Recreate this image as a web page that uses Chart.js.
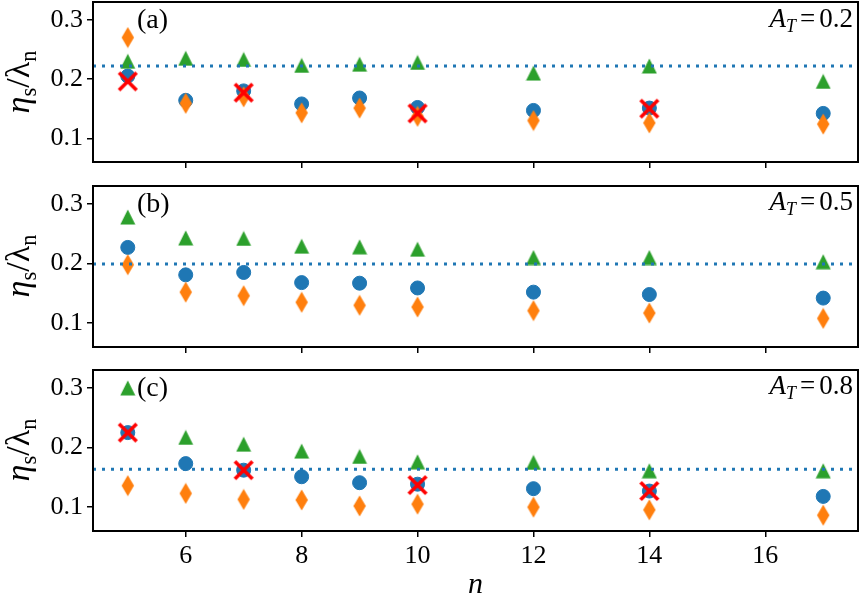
<!DOCTYPE html>
<html><head><meta charset="utf-8">
<script src="https://cdn.jsdelivr.net/npm/chart.js@4.4.1/dist/chart.umd.min.js"></script>
<style>
html,body{margin:0;padding:0;background:#fff;}
#wrap{position:relative;width:863px;height:600px;overflow:hidden;background:#fff;}
#wrap canvas{position:absolute;left:0;}
.lab{position:absolute;font-family:"Liberation Serif",serif;font-size:28px;color:#000;white-space:nowrap;line-height:1;}
.at{position:absolute;font-family:"Liberation Serif",serif;font-size:27px;color:#000;white-space:nowrap;line-height:1;}
.ytitle{position:absolute;left:18px;transform:translate(-50%,-50%) rotate(-90deg);font-family:"Liberation Serif",serif;font-size:34px;color:#000;white-space:nowrap;line-height:1;}
.sub{font-size:66%;position:relative;top:0.3em;}
</style></head><body>
<div id="wrap">
<canvas id="ca" width="863" height="182" style="top:0px"></canvas>
<canvas id="cb" width="863" height="182" style="top:184px"></canvas>
<canvas id="cc" width="863" height="232" style="top:368px"></canvas>
<div class="ytitle" style="top:82px"><i>η</i><span class="sub">s</span>/λ<span class="sub">n</span></div>
<div class="ytitle" style="top:266px"><i>η</i><span class="sub">s</span>/λ<span class="sub">n</span></div>
<div class="ytitle" style="top:450px"><i>η</i><span class="sub">s</span>/λ<span class="sub">n</span></div>
<div class="lab" id="la" style="left:137px;top:4.5px"></div>
<div class="lab" id="lb" style="left:137px;top:188.5px"></div>
<div class="lab" id="lc" style="left:137px;top:372.5px"></div>
<div class="at" id="ra" style="right:10px;top:4.5px"></div>
<div class="at" id="rb" style="right:10px;top:188px"></div>
<div class="at" id="rc" style="right:10px;top:372px"></div>
</div>
<script>
// ---- data ----
const nValues = [5, 6, 7, 8, 9, 10, 12, 14, 17];
const xTicks = [6, 8, 10, 12, 14, 16];
const yTicks = [0.1, 0.2, 0.3];
const panelLabels = ['(a)', '(b)', '(c)'];
const atValues = ['0.2', '0.5', '0.8'];

// panel (a) A_T = 0.2
const blueA   = [0.205, 0.164, 0.180, 0.158, 0.168, 0.152, 0.147, 0.151, 0.142];
const orangeA = [0.270, 0.159, 0.170, 0.143, 0.151, 0.137, 0.130, 0.126, 0.124];
const greenA  = [0.230, 0.235, 0.233, 0.223, 0.225, 0.228, 0.210, 0.222, 0.196];
const crossNA = [5, 7, 10, 14];
const crossYA = [0.196, 0.177, 0.142, 0.150];
const refA = 0.222;

// panel (b) A_T = 0.5
const blueB   = [0.227, 0.181, 0.185, 0.168, 0.167, 0.159, 0.152, 0.148, 0.142];
const orangeB = [0.198, 0.152, 0.146, 0.135, 0.130, 0.127, 0.121, 0.117, 0.108];
const greenB  = [0.278, 0.243, 0.242, 0.229, 0.228, 0.224, 0.210, 0.210, 0.203];
const crossNB = [];
const crossYB = [];
const refB = 0.199;

// panel (c) A_T = 0.8
const blueC   = [0.225, 0.173, 0.162, 0.151, 0.141, 0.1385, 0.131, 0.127, 0.118];
const orangeC = [0.136, 0.123, 0.113, 0.112, 0.102, 0.105, 0.100, 0.0955, 0.0865];
const greenC  = [0.300, 0.217, 0.2055, 0.194, 0.185, 0.176, 0.175, 0.161, 0.161];
const crossNC = [5, 7, 10, 14];
const crossYC = [0.225, 0.162, 0.137, 0.127];
const refC = 0.1635;

const xMin = 4.4, xMax = 17.6, yMin = 0.06, yMax = 0.33;

// ---- styles ----
const BLUE = '#1f77b4', ORANGE = '#ff7f0e', GREEN = '#2ca02c', RED = '#ff0000';
const FONT = '"Liberation Serif", serif';

function mk(w, h, draw) {
  const c = document.createElement('canvas');
  c.width = w; c.height = h;
  draw(c.getContext('2d'));
  return c;
}
const triImg = mk(16, 16, ctx => {
  ctx.fillStyle = GREEN;
  ctx.beginPath(); ctx.moveTo(8, 0.5); ctx.lineTo(15.5, 15.5); ctx.lineTo(0.5, 15.5); ctx.closePath(); ctx.fill();
});
const diaImg = mk(14, 22, ctx => {
  ctx.fillStyle = ORANGE;
  ctx.beginPath(); ctx.moveTo(7, 0.5); ctx.lineTo(13.2, 11); ctx.lineTo(7, 21.5); ctx.lineTo(0.8, 11); ctx.closePath(); ctx.fill();
});
const xImg = mk(22, 22, ctx => {
  ctx.strokeStyle = RED; ctx.lineWidth = 3.6; ctx.lineCap = 'butt';
  const a = 11 - 8.8, b = 11 + 8.8;
  ctx.beginPath(); ctx.moveTo(a, a); ctx.lineTo(b, b); ctx.moveTo(b, a); ctx.lineTo(a, b); ctx.stroke();
});

const framePlugin = {
  id: 'frame',
  afterDraw(chart) {
    const {ctx, chartArea: a} = chart;
    ctx.save();
    ctx.strokeStyle = '#000'; ctx.lineWidth = 2;
    ctx.strokeRect(a.left, a.top, a.right - a.left, a.bottom - a.top);
    ctx.restore();
  }
};

function pts(xs, ys) { return xs.map((x, i) => ({x: x, y: ys[i]})); }

function makePanel(id, blue, orange, green, crossN, crossY, ref, showX, xAxisH) {
  const tickFont = {family: FONT, size: 26};
  new Chart(document.getElementById(id), {
    type: 'scatter',
    data: {
      datasets: [
        {data: pts(crossN, crossY), pointStyle: xImg, pointRadius: 10, order: 0},
        {data: [{x: xMin, y: ref}, {x: xMax, y: ref}], showLine: true, borderColor: BLUE, borderWidth: 3,
         borderDash: [3, 6], pointRadius: 0, order: 1},
        {data: pts(nValues, green), pointStyle: triImg, pointRadius: 8, order: 2},
        {data: pts(nValues, orange), pointStyle: diaImg, pointRadius: 8, order: 3},
        {data: pts(nValues, blue), pointStyle: 'circle', pointRadius: 7, backgroundColor: BLUE,
         borderColor: BLUE, borderWidth: 1, order: 4}
      ]
    },
    options: {
      responsive: false, animation: false, events: [],
      layout: {autoPadding: false, padding: {top: 2, right: 5, left: 0, bottom: 0}},
      plugins: {legend: {display: false}, tooltip: {enabled: false}},
      scales: {
        x: {
          type: 'linear', min: xMin, max: xMax,
          afterBuildTicks: s => { s.ticks = xTicks.map(v => ({value: v})); },
          afterFit: s => { s.height = xAxisH; s.paddingLeft = 0; s.paddingRight = 0; },
          border: {display: false},
          grid: {drawOnChartArea: false, drawTicks: true, tickLength: 6, color: '#000', lineWidth: 1.5},
          ticks: {display: showX, font: tickFont, color: '#000', padding: 4, maxRotation: 0, autoSkip: false,
                  callback: v => String(v)},
          title: {display: showX, text: 'n', color: '#000',
                  font: {family: FONT, size: 30, style: 'italic', lineHeight: 1.0}, padding: {top: 0, bottom: 0}}
        },
        y: {
          min: yMin, max: yMax,
          afterBuildTicks: s => { s.ticks = yTicks.map(v => ({value: v})); },
          afterFit: s => { s.width = 93; s.paddingTop = 0; s.paddingBottom = 0; },
          border: {display: false},
          grid: {drawOnChartArea: false, drawTicks: true, tickLength: 6, color: '#000', lineWidth: 1.5},
          ticks: {font: tickFont, color: '#000', padding: 4, callback: v => v.toFixed(1)}
        }
      }
    },
    plugins: [framePlugin]
  });
}

makePanel('ca', blueA, orangeA, greenA, crossNA, crossYA, refA, false, 20);
makePanel('cb', blueB, orangeB, greenB, crossNB, crossYB, refB, false, 19);
makePanel('cc', blueC, orangeC, greenC, crossNC, crossYC, refC, true, 69);

const ids = ['a', 'b', 'c'];
ids.forEach((k, i) => {
  document.getElementById('l' + k).textContent = panelLabels[i];
  document.getElementById('r' + k).innerHTML =
    '<i>A</i><span class="sub"><i>T</i></span><span style="margin:0 4px">=</span>' + atValues[i];
});
</script>
</body></html>
